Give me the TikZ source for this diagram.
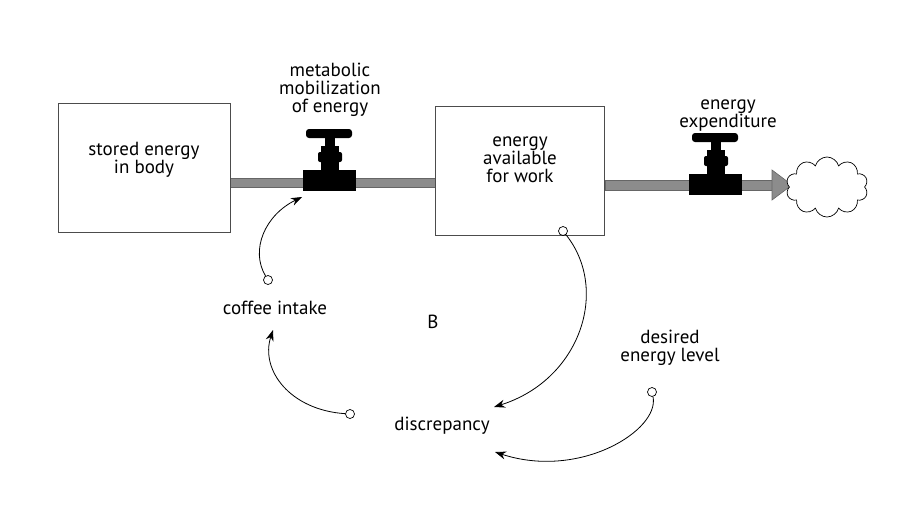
\documentclass[tikz,border=0pt]{standalone}
\usepackage{fontspec}
\setmainfont{PT Sans}
\usetikzlibrary{arrows.meta,shapes.symbols}
\begin{document}
\begin{tikzpicture}[x=1pt,y=-1pt,
  lbl/.style={align=center,font=\fontsize{19}{18}\selectfont,inner sep=1pt},
  stock/.style={draw=black!70,line width=0.8pt,fill=white},
  pipe/.style={draw=black!60,fill=black!45,line width=0.6pt},
  src/.style={circle,draw,line width=0.7pt,inner sep=0pt,minimum size=9pt},
  link/.style={-{Stealth[length=11pt,width=8pt]},line width=0.8pt}]
\useasboundingbox (0,0) rectangle (920,528);
% pipes
\path[pipe] (230,178) rectangle (436,187);
\path[pipe] (605,180) rectangle (772,190);
\path[pipe] (772,170) -- (792,185) -- (772,200) -- cycle;
% stocks
\node[stock,minimum width=172pt,minimum height=129pt] (s1) at (144,168) {};
\node[lbl] at (144,160) {stored energy\\in body};
\node[stock,minimum width=169pt,minimum height=129pt] (s2) at (520,171) {};
\node[lbl] at (520,160) {energy\\available\\for work};
% valves
\foreach \n/\cx/\cy in {v1/330/182, v2/716/186}{
  \fill (\cx-27,\cy-12) rectangle (\cx+26,\cy+9);
  \fill (\cx-9,\cy-36) rectangle (\cx+9,\cy-10);
  \fill[rounded corners=2pt] (\cx-12,\cy-30) rectangle (\cx+12,\cy-20);
  \fill[rounded corners=3pt] (\cx-24,\cy-53) rectangle (\cx+22,\cy-44);
  \fill (\cx-5,\cy-50) rectangle (\cx+5,\cy-34);
  \coordinate (\n) at (\cx-30,\cy+15);
}
\node[cloud,draw,line width=0.7pt,cloud puffs=10,aspect=1.6,minimum width=82pt,minimum height=60pt,fill=white] (cl) at (827,187) {};
% labels
\node[lbl] (mm) at (330,90) {metabolic\\mobilization\\of energy};
\node[lbl] (ee) at (728,116) {energy\\expenditure};
\node[lbl] (ci) at (275,308) {coffee intake};
\node[lbl] (B) at (433,322) {B};
\node[lbl] (del) at (670,348) {desired\\energy level};
\node[lbl] (dis) at (442,426) {discrepancy};
% circles
\node[src] (c1) at (563,231) {};
\node[src] (c2) at (268,280) {};
\node[src] (c3) at (350,414) {};
\node[src] (c4) at (652,392) {};
% links
\draw[link] (c1) .. controls (610,290) and (580,380) .. (494,407);
\draw[link] (c2) .. controls (250,250) and (265,215) .. (302,197);
\draw[link] (c3) .. controls (290,410) and (260,370) .. (273,330);
\draw[link] (c4) .. controls (660,430) and (580,480) .. (495,452);
\end{tikzpicture}
\end{document}
